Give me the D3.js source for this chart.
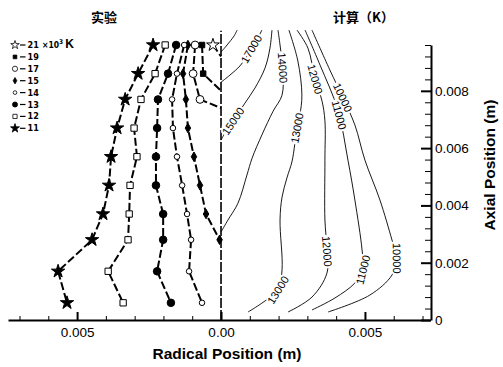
<!DOCTYPE html>
<html><head><meta charset="utf-8">
<script src="https://cdn.jsdelivr.net/npm/d3@7"></script>
<style>body{margin:0;background:#fff}svg{display:block}</style>
</head><body><svg id="c" width="503" height="367"></svg>
<script>
// ---------- DATA ----------
const zRows = [0.0096, 0.0086, 0.0077, 0.0067, 0.0057, 0.0047, 0.0037, 0.0028, 0.0017, 0.0006];
const s11 = [-0.00236, -0.00288, -0.00333, -0.00361, -0.00382, -0.00389, -0.00410, -0.00448, -0.00566, -0.00535];
const s12 = [-0.00194, -0.00229, -0.00278, -0.00302, -0.00292, -0.00316, -0.00319, -0.00323, -0.00392, -0.00340];
const s13 = [-0.00156, -0.00184, -0.00219, -0.00222, -0.00226, -0.00226, -0.00201, -0.00201, -0.00222, -0.00174];
const s14 = [-0.00128, -0.00153, -0.00170, -0.00167, -0.00153, -0.00135, -0.00118, -0.00104, -0.00111, -0.00066];
const s15 = [-0.00115, -0.00132, -0.00122, -0.00115, -0.00094, -0.00073, -0.00052, -0.00005];
const s17r = [-0.00090, -0.00097, -0.00073, 0];
const s17z = [0.0096, 0.0086, 0.0077, 0.0074];
const s19r = [-0.00066, -0.00062, 0];
const s19z = [0.0096, 0.0086, 0.0080];
const s21r = [-0.00028, 0];
const s21z = [0.0096, 0.0092];
const legendLabels = ["21", "19", "17", "15", "14", "13", "12", "11"];

// contour lines, [r, z] in metres
const c18000 = [[0, 0.00935], [0.00021, 0.0096], [0.00045, 0.00991], [0.00056, 0.01012]];
const c17000 = [[0, 0.0083], [0.00031, 0.00855], [0.00066, 0.00887], [0.00090, 0.00921], [0.00111, 0.00956], [0.00128, 0.00984], [0.00142, 0.01012]];
const c15000 = [[0, 0.00628], [0.00014, 0.00653], [0.00049, 0.00705], [0.00083, 0.00757], [0.00118, 0.0081], [0.00153, 0.0088], [0.00170, 0.00949], [0.00177, 0.01012]];
const c14000 = [[0.00198, 0.01012], [0.00205, 0.0096], [0.00215, 0.00869], [0.00212, 0.00785], [0.00181, 0.00729], [0.00142, 0.00646], [0.00108, 0.00565], [0.00090, 0.00506], [0.00059, 0.00408], [0.00024, 0.00349], [0, 0.00307]];
const c13000 = [[0.00236, 0.01012], [0.00267, 0.00904], [0.00281, 0.00785], [0.00274, 0.00716], [0.00264, 0.0067], [0.00247, 0.00555], [0.00229, 0.00496], [0.00212, 0.00429], [0.00205, 0.00349], [0.00212, 0.00175], [0.00198, 0.00105], [0.00142, 0.00059], [0.00094, 0.00028]];
const c12000 = [[0.00264, 0.01012], [0.00302, 0.00949], [0.00326, 0.00845], [0.00351, 0.00764], [0.00361, 0.00695], [0.00361, 0.00558], [0.00361, 0.00349], [0.00368, 0.00251], [0.00368, 0.00164], [0.00316, 0.0008], [0.00233, 0.00028]];
const c11000 = [[0.00292, 0.01012], [0.00344, 0.0089], [0.00406, 0.00733], [0.00441, 0.00558], [0.00465, 0.00419], [0.0049, 0.00244], [0.00493, 0.00175], [0.00465, 0.00129], [0.00396, 0.00077], [0.00316, 0.00035]];
const c10000 = [[0.00316, 0.01012], [0.00378, 0.00873], [0.00424, 0.00775], [0.00465, 0.00681], [0.0050, 0.00558], [0.00552, 0.00419], [0.00594, 0.00279], [0.00611, 0.00216], [0.00594, 0.00157], [0.00517, 0.00087], [0.00372, 0.00028]];
// label anchors
const contourLabelText = ["17000", "15000", "14000", "13000", "13000", "12000", "12000", "11000", "11000", "10000", "10000"];
const contourLabelR = [0.00108, 0.00049, 0.00215, 0.00265, 0.00198, 0.00326, 0.00368, 0.00410, 0.00493, 0.00430, 0.00611];
const contourLabelZ = [0.00945, 0.00690, 0.00880, 0.00670, 0.00105, 0.00840, 0.00240, 0.00715, 0.00175, 0.00780, 0.00216];

const xTickVals = [-0.005, 0, 0.005];
const xTickLabels = ["0.005", "0.00", "0.005"];
const yTickVals = [0, 0.002, 0.004, 0.006, 0.008];
const yTickLabels = ["0", "0.002", "0.004", "0.006", "0.008"];

// ---------- CHART ----------
const svg = d3.select("#c");
const x = d3.scaleLinear().domain([-0.0074, 0.00726]).range([8, 430]);
const y = d3.scaleLinear().domain([0, 0.0096]).range([320, 45]);
const FONT = "Arial, 'Liberation Sans', sans-serif";

// center line
svg.append("line").attr("x1", x(0)).attr("x2", x(0)).attr("y1", y(0)).attr("y2", y(0.0101))
  .attr("stroke", "#000").attr("stroke-width", 1.6).attr("stroke-dasharray", "10,2");

// contours
const lineC = d3.line().x(d => x(d[0])).y(d => y(d[1])).curve(d3.curveCatmullRom.alpha(0.5));
const contours = [c18000, c17000, c15000, c14000, c13000, c12000, c11000, c10000];
const cg = svg.append("g");
const paths = contours.map(c => cg.append("path").attr("d", lineC(c)).attr("fill", "none")
  .attr("stroke", "#000").attr("stroke-width", 0.9).node());

contourLabelText.forEach((t, i) => {
  const px = x(contourLabelR[i]), py = y(contourLabelZ[i]);
  let best = null;
  paths.forEach(p => {
    const L = p.getTotalLength();
    for (let s = 0; s <= L; s += 0.5) {
      const q = p.getPointAtLength(s);
      const d = (q.x - px) ** 2 + (q.y - py) ** 2;
      if (!best || d < best.d) best = { d, p, s, L, q };
    }
  });
  const a = best.p.getPointAtLength(Math.max(0, best.s - 4));
  const b = best.p.getPointAtLength(Math.min(best.L, best.s + 4));
  let ang = Math.atan2(b.y - a.y, b.x - a.x) * 180 / Math.PI;
  if (ang > 90) ang -= 180;
  if (ang <= -90) ang += 180;
  cg.append("text").attr("transform", `translate(${best.q.x},${best.q.y}) rotate(${ang})`)
    .attr("text-anchor", "middle").attr("dominant-baseline", "central")
    .attr("font-family", FONT).attr("font-size", 11)
    .attr("stroke", "#fff").attr("stroke-width", 4).attr("paint-order", "stroke")
    .attr("fill", "#000").text(t);
});

// experimental series
const sym = {
  star: d3.symbolStar, square: d3.symbolSquare, circle: d3.symbolCircle, diamond: d3.symbolDiamond
};
const seriesStyle = [
  { r: s21r, z: s21z, type: "star", fill: false, size: 50 },
  { r: s19r, z: s19z, type: "square", fill: true, size: 30 },
  { r: s17r, z: s17z, type: "circle", fill: false, size: 48 },
  { r: s15, z: zRows.slice(0, s15.length), type: "diamond", fill: true, size: 26 },
  { r: s14, z: zRows, type: "circle", fill: false, size: 24 },
  { r: s13, z: zRows, type: "circle", fill: true, size: 45 },
  { r: s12, z: zRows, type: "square", fill: false, size: 40 },
  { r: s11, z: zRows, type: "star", fill: true, size: 55 }
];
const lineS = d3.line().x(d => x(d[0])).y(d => y(d[1]));
const sg = svg.append("g");
seriesStyle.forEach(s => {
  const pts = s.r.map((r, i) => [r, s.z[i]]);
  sg.append("path").attr("d", lineS(pts)).attr("fill", "none").attr("stroke", "#000")
    .attr("stroke-width", 2).attr("stroke-dasharray", "8,3");
});
seriesStyle.forEach(s => {
  const pts = s.r.map((r, i) => [r, s.z[i]]).filter(d => d[0] < 0);
  sg.selectAll(null).data(pts).enter().append("path")
    .attr("transform", d => `translate(${x(d[0])},${y(d[1])})`)
    .attr("d", d3.symbol(sym[s.type], s.size))
    .attr("fill", s.fill ? "#000" : "#fff").attr("stroke", "#000").attr("stroke-width", 1);
});

// axes
const xAxis = svg.append("g").attr("transform", `translate(0,${y(0)})`)
  .call(d3.axisBottom(x).tickValues(xTickVals).tickFormat((d, i) => xTickLabels[i])
    .tickSizeInner(-8).tickSizeOuter(0).tickPadding(7));
xAxis.select(".domain").attr("stroke-width", 2);
xAxis.selectAll(".tick line").attr("stroke-width", 2);
xAxis.selectAll("text").attr("font-family", FONT).attr("font-size", 13.5).attr("fill", "#000");
const xMinor = d3.range(-7, 8).map(v => v * 0.001).filter(v => Math.abs(v % 0.005) > 1e-9 && Math.abs(v) > 1e-9);
svg.append("g").attr("transform", `translate(0,${y(0)})`)
  .call(d3.axisBottom(x).tickValues(xMinor).tickFormat("").tickSizeInner(-4).tickSizeOuter(0))
  .call(g => g.select(".domain").remove());

const yAxis = svg.append("g").attr("transform", `translate(${x.range()[1] + 1},0)`)
  .call(d3.axisRight(y).tickValues(yTickVals).tickFormat((d, i) => yTickLabels[i])
    .tickSizeInner(-10).tickSizeOuter(0).tickPadding(4));
yAxis.select(".domain").attr("stroke-width", 2);
yAxis.selectAll(".tick line").attr("stroke-width", 2);
yAxis.selectAll("text").attr("font-family", FONT).attr("font-size", 13.5).attr("fill", "#000");
const yMinor = d3.range(0, 25).map(v => v * 0.0004).filter(v => v % 0.002 > 1e-9 && (0.002 - v % 0.002) > 1e-9);
svg.append("g").attr("transform", `translate(${x.range()[1] + 1},0)`)
  .call(d3.axisRight(y).tickValues(yMinor).tickFormat("").tickSizeInner(-6).tickSizeOuter(0))
  .call(g => g.select(".domain").remove());

// axis titles
svg.append("text").attr("x", 227).attr("y", 359).attr("text-anchor", "middle")
  .attr("font-family", FONT).attr("font-weight", "bold").attr("font-size", 15.5).text("Radical Position (m)");
svg.append("text").attr("transform", "translate(495,165) rotate(-90)").attr("text-anchor", "middle")
  .attr("font-family", FONT).attr("font-weight", "bold").attr("font-size", 15.5).text("Axial Position (m)");

// panel titles
const CJK = "'Noto Sans CJK SC', sans-serif";
svg.append("text").attr("x", 104).attr("y", 22).attr("text-anchor", "middle")
  .attr("font-family", CJK).attr("font-weight", "bold").attr("font-size", 13).text("实验");
svg.append("text").attr("x", 333).attr("y", 22)
  .attr("font-family", CJK).attr("font-weight", "bold").attr("font-size", 13).text("计算（K）");

// legend
const lg = svg.append("g");
const NARROW = "'Liberation Sans Narrow', 'DejaVu Sans Condensed', sans-serif";
legendLabels.forEach((t, i) => {
  const s = seriesStyle[i];
  const yy = 45 + i * 11.9;
  lg.append("path").attr("transform", `translate(15,${yy})`)
    .attr("d", d3.symbol(sym[s.type], s.size * 0.45))
    .attr("fill", s.fill ? "#000" : "#fff").attr("stroke", "#000").attr("stroke-width", 0.8);
  lg.append("line").attr("x1", 20).attr("x2", 25.5).attr("y1", yy).attr("y2", yy).attr("stroke", "#000").attr("stroke-width", 1.2);
  lg.append("text").attr("x", 27.5).attr("y", yy).attr("dominant-baseline", "central")
    .attr("font-family", NARROW).attr("font-weight", "bold").attr("font-size", 9).text(t);
});
const ut = lg.append("text").attr("x", 42).attr("y", 48)
  .attr("font-family", NARROW).attr("font-weight", "bold").attr("font-size", 8.5);
ut.append("tspan").text("×10");
ut.append("tspan").attr("dy", -4).attr("font-size", 6.5).text("3");
ut.append("tspan").attr("dy", 4).attr("dx", 2).attr("font-family", FONT).attr("font-size", 12).text("K");
</script></body></html>
